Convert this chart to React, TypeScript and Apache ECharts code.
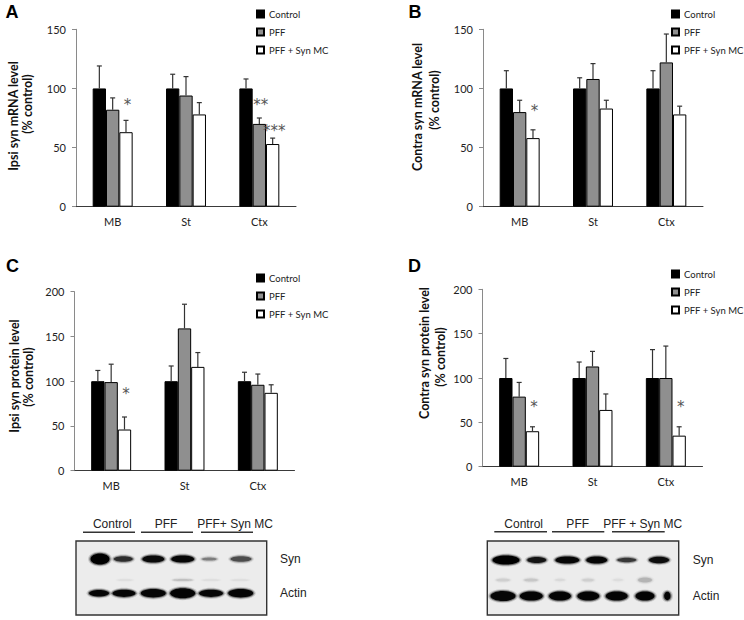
import React, { useEffect, useRef } from 'react';
import * as echarts from 'echarts';

const categories = ['MB', 'St', 'Ctx'];
const groupNames = ['Control', 'PFF', 'PFF + Syn MC'];

// A: Ipsi syn mRNA
const ipsiMrnaControl = [100, 100, 100];
const ipsiMrnaControlErr = [119, 112, 108];
const ipsiMrnaPff = [82, 94, 70];
const ipsiMrnaPffErr = [92, 110, 75];
const ipsiMrnaSynMc = [63, 78, 53];
const ipsiMrnaSynMcErr = [73, 88, 58];
const ipsiMrnaStars = [
  { cat: 0, bar: 2, at: 89, text: '*' },
  { cat: 2, bar: 1, at: 89, text: '**' },
  { cat: 2, bar: 2, at: 67, text: '***' },
];

// B: Contra syn mRNA
const contraMrnaControl = [100, 100, 100];
const contraMrnaControlErr = [115, 109, 115];
const contraMrnaPff = [80, 108, 122];
const contraMrnaPffErr = [90, 121, 146];
const contraMrnaSynMc = [58, 83, 78];
const contraMrnaSynMcErr = [65, 90, 85];
const contraMrnaStars = [{ cat: 0, bar: 2, at: 84, text: '*' }];

// C: Ipsi syn protein
const ipsiProtControl = [100, 100, 100];
const ipsiProtControlErr = [112, 117, 110];
const ipsiProtPff = [99, 159, 96];
const ipsiProtPffErr = [119, 186, 108];
const ipsiProtSynMc = [46, 116, 87];
const ipsiProtSynMcErr = [60, 132, 96];
const ipsiProtStars = [{ cat: 0, bar: 2, at: 90, text: '*' }];

// D: Contra syn protein
const contraProtControl = [100, 100, 100];
const contraProtControlErr = [122, 118, 132];
const contraProtPff = [79, 113, 100];
const contraProtPffErr = [95, 130, 136];
const contraProtSynMc = [40, 64, 35];
const contraProtSynMcErr = [45, 82, 45];
const contraProtStars = [
  { cat: 0, bar: 2, at: 72, text: '*' },
  { cat: 2, bar: 2, at: 72, text: '*' },
];

const yTicksMrna = { max: 150, interval: 50 };
const yTicksProt = { max: 200, interval: 50 };

// western blot band appearance: [centre x, half width, half height, darkness]
const blotCSyn = [[100, 9.5, 5.5, 1], [123.3, 9.5, 2.8, 0.7], [153.3, 11, 3.6, 0.92], [182.7, 11.5, 3.6, 0.95], [209.3, 7.5, 1.6, 0.35], [241, 10.5, 2.8, 0.55]];
const blotCActin = [[99, 10, 3.2, 0.95], [124, 11.5, 3.6, 0.95], [153.3, 12.5, 4.2, 0.95], [182.7, 12.5, 5, 0.97], [211, 12, 3.6, 0.95], [240.7, 12.5, 4.2, 0.97]];
const blotCFaint = [[182.7, 10, 0.8, 0.15], [125, 8, 0.6, 0.05], [211, 9, 0.6, 0.05], [240, 9, 0.6, 0.05]];
const blotDSyn = [[506, 13.5, 4.6, 1], [536.7, 9.5, 3, 0.85], [567.3, 12, 3.6, 0.95], [596.7, 10.5, 3.6, 0.95], [626.7, 9.5, 2.2, 0.65], [659, 10, 3.2, 0.9]];
const blotDActin = [[503, 12.5, 5, 0.95], [531.3, 11.5, 4.6, 0.97], [560, 11, 4.6, 0.97], [588.3, 11, 4.6, 0.97], [616.7, 11, 4.6, 0.97], [645, 9.5, 4.6, 0.97], [667.3, 3.2, 4.2, 0.97]];
const blotDFaint = [[503, 7, 1.6, 0.08], [531, 7, 1.6, 0.1], [560, 5, 1.2, 0.05], [588, 6, 1.6, 0.08], [618, 5, 1.2, 0.04], [645, 7, 2.5, 0.16]];

const FONT = 'Lato, "Open Sans", sans-serif';
const BAR_FRACTION = 0.545;

type Panel = {
  letter: string;
  title1: string;
  title2: string;
  grid: { left: number; top: number; width: number; height: number };
  yTicks: { max: number; interval: number };
  values: number[][];
  errs: number[][];
  stars: { cat: number; bar: number; at: number; text: string }[];
  letterPos: [number, number];
  t1: [number, number];
  t2: [number, number];
  legendPos: [number, number];
};

const panels: Panel[] = [
  {
    letter: 'A', title1: 'Ipsi syn mRNA level', title2: '(% control)',
    grid: { left: 76, top: 29.3, width: 220, height: 177.4 }, yTicks: yTicksMrna,
    values: [ipsiMrnaControl, ipsiMrnaPff, ipsiMrnaSynMc],
    errs: [ipsiMrnaControlErr, ipsiMrnaPffErr, ipsiMrnaSynMcErr],
    stars: ipsiMrnaStars, letterPos: [12, 12], t1: [13, 116], t2: [27.5, 104], legendPos: [256, 9],
  },
  {
    letter: 'B', title1: 'Contra syn mRNA level', title2: '(% control)',
    grid: { left: 483, top: 29.3, width: 220, height: 177.4 }, yTicks: yTicksMrna,
    values: [contraMrnaControl, contraMrnaPff, contraMrnaSynMc],
    errs: [contraMrnaControlErr, contraMrnaPffErr, contraMrnaSynMcErr],
    stars: contraMrnaStars, letterPos: [415, 12], t1: [417, 107], t2: [434, 100], legendPos: [671, 9],
  },
  {
    letter: 'C', title1: 'Ipsi syn protein level', title2: '(% control)',
    grid: { left: 74.5, top: 291.7, width: 220, height: 179 }, yTicks: yTicksProt,
    values: [ipsiProtControl, ipsiProtPff, ipsiProtSynMc],
    errs: [ipsiProtControlErr, ipsiProtPffErr, ipsiProtSynMcErr],
    stars: ipsiProtStars, letterPos: [12.5, 266], t1: [14, 376], t2: [28.5, 377], legendPos: [256, 273],
  },
  {
    letter: 'D', title1: 'Contra syn protein level', title2: '(% control)',
    grid: { left: 482.5, top: 289.3, width: 220, height: 177.4 }, yTicks: yTicksProt,
    values: [contraProtControl, contraProtPff, contraProtSynMc],
    errs: [contraProtControlErr, contraProtPffErr, contraProtSynMcErr],
    stars: contraProtStars, letterPos: [414.5, 266], t1: [424, 353], t2: [440.5, 357], legendPos: [671, 269],
  },
];

const barColors = ['#000000', '#8f8f8f', '#ffffff'];

function bandEls(bands: number[][], cy: number) {
  const els: any[] = [];
  bands.forEach(([cx, rx, ry, a]) => {
    els.push({
      type: 'ellipse', silent: true,
      shape: { cx, cy, rx: rx + 2.5, ry: ry + 2 },
      style: { fill: `rgba(0,0,0,${(a * 0.15).toFixed(3)})` },
    });
    els.push({
      type: 'ellipse', silent: true,
      shape: { cx, cy, rx: rx + 1.2, ry: ry + 1 },
      style: { fill: `rgba(0,0,0,${(a * 0.4).toFixed(3)})` },
    });
    els.push({
      type: 'ellipse', silent: true,
      shape: { cx, cy, rx, ry },
      style: { fill: `rgba(0,0,0,${a})` },
    });
  });
  return els;
}

function blotEls(
  box: { x: number; y: number; w: number; h: number },
  synY: number, actinY: number,
  syn: number[][], actin: number[][], faint: number[][], faintY: number,
  labels: { text: string; x: number }[], labelY: number,
  lines: [number, number][], lineY: number, sideX: number,
) {
  const els: any[] = [];
  const lf = '"Liberation Sans", Arial, sans-serif';
  els.push({
    type: 'rect', silent: true,
    shape: { x: box.x, y: box.y, width: box.w, height: box.h },
    style: { fill: '#ececec', stroke: '#333', lineWidth: 1.4 },
  });
  els.push(...bandEls(faint, faintY));
  els.push(...bandEls(syn, synY));
  els.push(...bandEls(actin, actinY));
  labels.forEach((l) => {
    els.push({
      type: 'text', silent: true, x: l.x, y: labelY,
      style: { text: l.text, fontSize: 12, fontFamily: lf, fill: '#222', align: 'center', verticalAlign: 'middle' },
    });
  });
  lines.forEach(([a, b]) => {
    els.push({ type: 'line', silent: true, shape: { x1: a, y1: lineY, x2: b, y2: lineY }, style: { stroke: '#333', lineWidth: 1.5 } });
  });
  els.push({
    type: 'text', silent: true, x: sideX, y: synY,
    style: { text: 'Syn', fontSize: 12, fontFamily: lf, fill: '#222', align: 'left', verticalAlign: 'middle' },
  });
  els.push({
    type: 'text', silent: true, x: sideX, y: actinY,
    style: { text: 'Actin', fontSize: 12, fontFamily: lf, fill: '#222', align: 'left', verticalAlign: 'middle' },
  });
  return els;
}

function buildOption() {
  const grid: any[] = [];
  const xAxis: any[] = [];
  const yAxis: any[] = [];
  const series: any[] = [];
  const legend: any[] = [];
  const graphic: any[] = [];

  panels.forEach((p, i) => {
    grid.push({ ...p.grid, containLabel: false });
    xAxis.push({
      type: 'category', gridIndex: i, data: categories,
      axisLine: { lineStyle: { color: '#3a3a3a', width: 1 } },
      axisTick: { show: false },
      axisLabel: { fontSize: 11, fontFamily: FONT, color: '#222', margin: 9 },
    });
    yAxis.push({
      type: 'value', gridIndex: i, min: 0, max: p.yTicks.max, interval: p.yTicks.interval,
      axisLine: { show: true, lineStyle: { color: '#8a8a8a', width: 1 } },
      axisTick: { show: true, length: 4, lineStyle: { color: '#8a8a8a' } },
      splitLine: { show: false },
      axisLabel: { fontSize: 11, fontFamily: FONT, color: '#222', margin: 10 },
    });
    groupNames.forEach((name, s) => {
      series.push({
        type: 'bar', name, xAxisIndex: i, yAxisIndex: i,
        data: p.values[s],
        barGap: '0%', barCategoryGap: `${((1 - BAR_FRACTION) * 100).toFixed(1)}%`,
        itemStyle: { color: barColors[s], borderColor: '#000', borderWidth: 1 },
        emphasis: { disabled: true },
      });
    });
    const errData: number[][] = [];
    p.values.forEach((vals, s) => vals.forEach((v, c) => errData.push([c, s, v, p.errs[s][c]])));
    series.push({
      type: 'custom', name: 'err' + i, xAxisIndex: i, yAxisIndex: i, z: 5,
      encode: { x: 0, y: 3 },
      itemStyle: { color: '#333' },
      data: errData,
      renderItem: (params: any, api: any) => {
        const cat = api.value(0), s = api.value(1), v = api.value(2), e = api.value(3);
        const band = api.size([1, 0])[0];
        const bw = (band * BAR_FRACTION) / 3;
        const p0 = api.coord([cat, v]);
        const p1 = api.coord([cat, e]);
        const x = p0[0] + (s - 1) * bw;
        return {
          type: 'group',
          children: [
            { type: 'line', shape: { x1: x, y1: p0[1], x2: x, y2: p1[1] }, style: { stroke: '#333', lineWidth: 1.2 } },
            { type: 'line', shape: { x1: x - 2.5, y1: p1[1], x2: x + 2.5, y2: p1[1] }, style: { stroke: '#333', lineWidth: 1.2 } },
          ],
        };
      },
    });
    const stars = p.stars;
    series.push({
      type: 'custom', name: 'stars' + i, xAxisIndex: i, yAxisIndex: i, z: 6,
      encode: { x: 0, y: 2 },
      itemStyle: { color: '#555' },
      data: stars.map((st) => [st.cat, st.bar, st.at]),
      renderItem: (params: any, api: any) => {
        const st = stars[params.dataIndex];
        const band = api.size([1, 0])[0];
        const bw = (band * BAR_FRACTION) / 3;
        const pt = api.coord([api.value(0), api.value(2)]);
        const x = pt[0] + (api.value(1) - 1) * bw + 1.5;
        return {
          type: 'text', x, y: pt[1] + 4,
          style: {
            text: st.text, fontSize: 15, fontFamily: '"DejaVu Sans", sans-serif',
            fill: '#555', stroke: 'none', lineWidth: 0, align: 'center', verticalAlign: 'middle',
          },
        };
      },
    });
    legend.push({
      data: groupNames, orient: 'vertical', left: p.legendPos[0], top: p.legendPos[1],
      itemWidth: 7, itemHeight: 7, itemGap: 8, padding: 0, icon: 'rect', selectedMode: false,
      textStyle: { fontSize: 9.5, fontFamily: FONT, color: '#222', lineHeight: 10 },
    });
    graphic.push({
      type: 'text', x: p.letterPos[0], y: p.letterPos[1],
      style: { text: p.letter, fontSize: 18, fontWeight: 'bold', fontFamily: '"Liberation Sans", Arial, sans-serif', fill: '#000', align: 'center', verticalAlign: 'middle' },
    });
    graphic.push({
      type: 'text', x: p.t1[0], y: p.t1[1], rotation: Math.PI / 2,
      style: { text: p.title1, fontSize: 12.5, fontWeight: 'bold', fontFamily: FONT, fill: '#111', align: 'center', verticalAlign: 'middle' },
    });
    graphic.push({
      type: 'text', x: p.t2[0], y: p.t2[1], rotation: Math.PI / 2,
      style: { text: p.title2, fontSize: 12.5, fontWeight: 'bold', fontFamily: FONT, fill: '#111', align: 'center', verticalAlign: 'middle' },
    });
  });

  graphic.push(
    ...blotEls(
      { x: 76, y: 541, w: 190.7, h: 74 }, 559, 593.3,
      blotCSyn, blotCActin, blotCFaint, 580,
      [{ text: 'Control', x: 112.3 }, { text: 'PFF', x: 166 }, { text: 'PFF+ Syn MC', x: 235 }], 524,
      [[83, 135], [141, 193], [201, 253]], 532.3, 280,
    ),
  );
  graphic.push(
    ...blotEls(
      { x: 487.3, y: 541, w: 191.4, h: 74 }, 560, 596,
      blotDSyn, blotDActin, blotDFaint, 580,
      [{ text: 'Control', x: 523.7 }, { text: 'PFF', x: 577.7 }, { text: 'PFF + Syn MC', x: 642.7 }], 523.5,
      [[494.3, 547], [552, 604.3], [612, 664.7]], 531.7, 692.7,
    ),
  );

  return {
    animation: false,
    backgroundColor: '#ffffff',
    grid, xAxis, yAxis, series, legend, graphic,
  };
}

export default function App() {
  const ref = useRef<HTMLDivElement>(null);
  useEffect(() => {
    if (!ref.current) return;
    const chart = echarts.init(ref.current, undefined, { renderer: 'svg' });
    chart.setOption(buildOption() as any);
    return () => chart.dispose();
  }, []);
  return (
    <div
      ref={ref}
      style={{ position: 'absolute', left: 0, top: 0, width: 744, height: 620, background: '#fff' }}
    />
  );
}
